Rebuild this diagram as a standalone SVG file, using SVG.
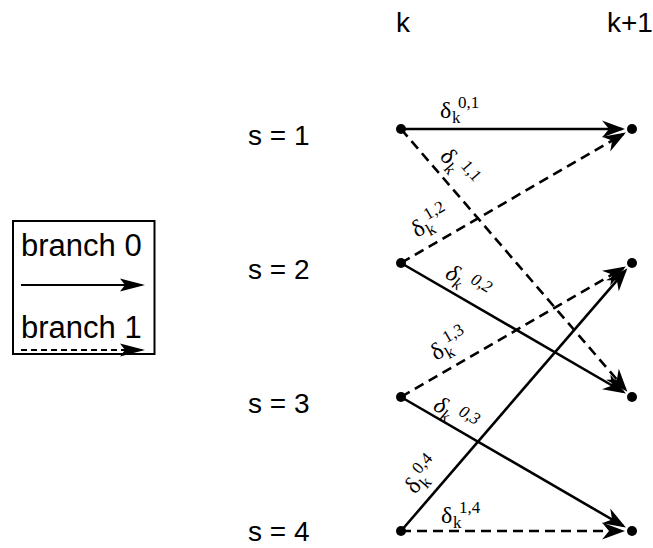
<svg xmlns="http://www.w3.org/2000/svg" width="653" height="548" viewBox="0 0 653 548">
<style>
.lbl{font-family:"Liberation Sans",Arial,sans-serif;font-size:28px;fill:#000}
.leg{font-family:"Liberation Sans",Arial,sans-serif;font-size:31px;fill:#000}
.g{font-family:"Liberation Serif","Times New Roman",serif;fill:#000}
.d{font-size:24px}
.s{font-size:17px}
.it{font-style:italic}
.e{fill:none;stroke:#000;stroke-width:2.6}
.dash{stroke-dasharray:10,6}
.node{fill:#000}
</style>
<defs>
<marker id="ah" markerUnits="userSpaceOnUse" viewBox="0 -9 23 18" refX="20" refY="0" markerWidth="23" markerHeight="18" orient="auto">
<path d="M0,-8.5 L23,0 L0,8.5 L7,0 Z" fill="#000" stroke="none"/>
</marker>
<marker id="lh" markerUnits="userSpaceOnUse" viewBox="0 -7 25 14" refX="22" refY="0" markerWidth="25" markerHeight="14" orient="auto">
<path d="M0,-6.5 L25,0 L0,6.5 L5,0 Z" fill="#000" stroke="none"/>
</marker>
</defs>
<rect width="653" height="548" fill="#fff"/>
<g id="headers">
<text class="lbl" x="396" y="32">k</text>
<text class="lbl" x="607" y="32">k+1</text>
</g>
<g id="state-labels">
<text class="lbl" x="248" y="145">s = 1</text>
<text class="lbl" x="248" y="279">s = 2</text>
<text class="lbl" x="248" y="413">s = 3</text>
<text class="lbl" x="248" y="541">s = 4</text>
</g>
<g id="legend">
<rect x="13" y="221" width="141.5" height="133" fill="none" stroke="#000" stroke-width="2"/>
<text class="leg" x="21" y="256">branch 0</text>
<line x1="21" y1="285" x2="142" y2="285" stroke="#000" stroke-width="2" marker-end="url(#lh)"/>
<text class="leg" x="21" y="338">branch 1</text>
<line x1="21" y1="350" x2="142" y2="350" stroke="#000" stroke-width="2" stroke-dasharray="6,4" marker-end="url(#lh)"/>
</g>
<g id="connectors">
<line class="e" x1="401" y1="129" x2="622" y2="129" marker-end="url(#ah)"/>
<line class="e dash" x1="401" y1="129" x2="625.4" y2="389.4" marker-end="url(#ah)"/>
<line class="e dash" x1="401" y1="263" x2="623.3" y2="134" marker-end="url(#ah)"/>
<line class="e" x1="401" y1="263" x2="623.3" y2="392" marker-end="url(#ah)"/>
<line class="e dash" x1="401" y1="397" x2="623.3" y2="268" marker-end="url(#ah)"/>
<line class="e" x1="401" y1="397" x2="623.3" y2="526" marker-end="url(#ah)"/>
<line class="e" x1="401" y1="531" x2="625.4" y2="270.6" marker-end="url(#ah)"/>
<line class="e dash" x1="401" y1="531" x2="622" y2="531" marker-end="url(#ah)"/>
</g>
<g id="edge-labels" class="g">
<g id="lbl-01" transform="translate(440,118)"><text class="d" x="0" y="0">δ</text><text class="s" x="12" y="5">k</text><text class="s" x="18" y="-10">0,1</text></g>
<g id="lbl-11" transform="translate(439,157) rotate(49)"><text class="d" x="0" y="0">δ</text><text class="s" x="12" y="5">k</text><text class="s" x="21" y="-10">1,1</text></g>
<g id="lbl-12" transform="translate(417,238) rotate(-30)"><text class="d" x="0" y="0">δ</text><text class="s" x="12" y="5">k</text><text class="s" x="18" y="-10">1,2</text></g>
<g id="lbl-02" class="it" transform="translate(444,277) rotate(30)"><text class="d" x="0" y="0">δ</text><text class="s" x="11" y="5">k</text><text class="s" x="25" y="-8">0,2</text></g>
<g id="lbl-13" transform="translate(436,361) rotate(-30)"><text class="d" x="0" y="0">δ</text><text class="s" x="12" y="5">k</text><text class="s" x="18" y="-10">1,3</text></g>
<g id="lbl-03" class="it" transform="translate(432,409) rotate(30)"><text class="d" x="0" y="0">δ</text><text class="s" x="11" y="5">k</text><text class="s" x="25" y="-8">0,3</text></g>
<g id="lbl-04" transform="translate(415,495) rotate(-49)"><text class="d" x="0" y="0">δ</text><text class="s" x="12" y="5">k</text><text class="s" x="18" y="-10">0,4</text></g>
<g id="lbl-14" transform="translate(441,523)"><text class="d" x="0" y="0">δ</text><text class="s" x="12" y="5">k</text><text class="s" x="18" y="-10">1,4</text></g>
</g>
<g id="nodes">
<circle id="n-k-1" class="node" cx="401" cy="129" r="5"/>
<circle id="n-k-2" class="node" cx="401" cy="263" r="5"/>
<circle id="n-k-3" class="node" cx="401" cy="397" r="5"/>
<circle id="n-k-4" class="node" cx="401" cy="531" r="5"/>
<circle id="n-k1-1" class="node" cx="632" cy="129" r="5"/>
<circle id="n-k1-2" class="node" cx="632" cy="263" r="5"/>
<circle id="n-k1-3" class="node" cx="632" cy="397" r="5"/>
<circle id="n-k1-4" class="node" cx="632" cy="531" r="5"/>
</g>
</svg>
